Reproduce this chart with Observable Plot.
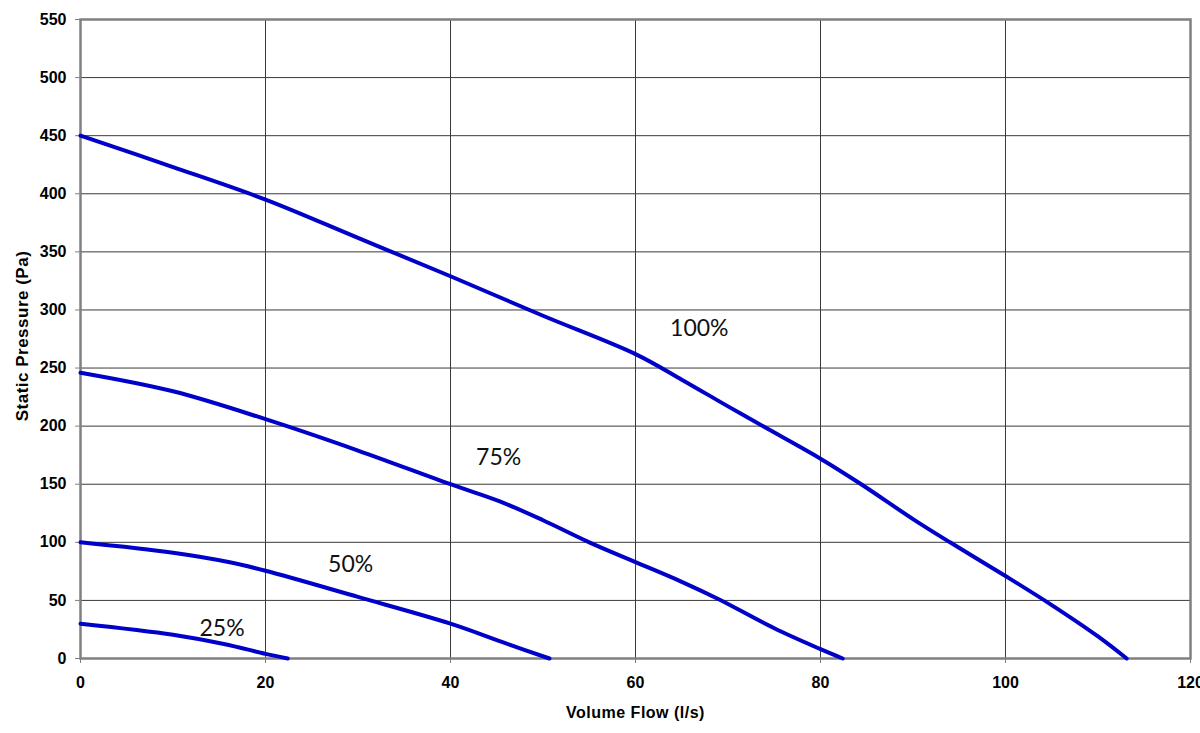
<!DOCTYPE html>
<html>
<head>
<meta charset="utf-8">
<script src="https://cdn.jsdelivr.net/npm/d3@7"></script>
<script src="https://cdn.jsdelivr.net/npm/@observablehq/plot@0.6"></script>
<style>
  html, body { margin: 0; padding: 0; background: #fff; }
  #chart svg { display: block; }
</style>
</head>
<body>
<div id="chart"></div>
<script>
// ---- data ----
const flow100 = [0, 10, 20, 30, 40, 50, 60, 65, 70, 74, 80, 84.4, 90, 94, 100, 105, 110, 113.1];
const pres100 = [450, 423, 395, 362, 329, 295, 262, 240, 217, 199, 172, 150, 120, 100, 71, 46, 19, 0];

const flow75 = [0, 10, 20, 30, 40, 45.4, 50, 55, 60, 65, 69, 75, 80, 82.4];
const pres75 = [246, 230, 206, 179, 150, 135, 119, 100, 83, 66, 51, 26, 8, 0];

const flow50 = [0, 10, 16, 20, 30, 40, 46, 50.7];
const pres50 = [100, 91, 83, 75.5, 53, 30, 13, 0];

const flow25 = [0, 10, 15.5, 20, 22.4];
const pres25 = [30, 20.5, 12.5, 4, 0];

const seriesNames = ["100%", "75%", "50%", "25%"];
const labelX = [66.9, 45.2, 29.2, 15.3];
const labelY = [283.7, 173, 81, 25.4];

const xTicks = [0, 20, 40, 60, 80, 100, 120];
const yTicks = [0, 50, 100, 150, 200, 250, 300, 350, 400, 450, 500, 550];

const xTitle = "Volume Flow (l/s)";
const yTitle = "Static Pressure (Pa)";

// ---- build table ----
const curves = [[flow100, pres100], [flow75, pres75], [flow50, pres50], [flow25, pres25]];
const rows = curves.flatMap(([fx, py], i) => fx.map((f, j) => ({series: seriesNames[i], flow: f, pressure: py[j]})));
const labels = seriesNames.map((s, i) => ({text: s, x: labelX[i], y: labelY[i]}));

const font = "'Liberation Sans', Arial, Helvetica, sans-serif";

const chart = Plot.plot({
  width: 1200,
  height: 733,
  marginLeft: 80,
  marginRight: 10,
  marginTop: 19,
  marginBottom: 75,
  style: {fontFamily: font, fontSize: "16px", fontWeight: "bold", color: "black", background: "white"},
  x: {domain: [0, 120]},
  y: {domain: [0, 550]},
  marks: [
    Plot.gridX(xTicks, {stroke: "#3a3a3a", strokeOpacity: 1, strokeWidth: 1}),
    Plot.gridY(yTicks, {stroke: "#3a3a3a", strokeOpacity: 1, strokeWidth: 1}),
    Plot.axisX(xTicks, {tickSize: 5, tickPadding: 13, stroke: "#808080", fill: "black", label: null, fontSize: 16, fontWeight: "bold"}),
    Plot.axisY(yTicks, {tickSize: 5, tickPadding: 9, stroke: "#808080", fill: "black", label: null, fontSize: 16, fontWeight: "bold"}),
    Plot.frame({stroke: "#808080", strokeWidth: 2.5}),
    Plot.line(rows, {x: "flow", y: "pressure", z: "series", stroke: "#0000c8", strokeWidth: 4, curve: "catmull-rom"}),
    Plot.text(labels, {x: "x", y: "y", text: "text", fontSize: 23, fontWeight: "normal", fontFamily: "Lato, 'Open Sans', sans-serif", fill: "#111"}),
    Plot.text([xTitle], {frameAnchor: "bottom", lineAnchor: "middle", textAnchor: "middle", dy: 54, fontSize: 16, fontWeight: "bold", fill: "black"}),
    Plot.text([yTitle], {frameAnchor: "left", lineAnchor: "middle", textAnchor: "middle", dx: -58, dy: -3, rotate: -90, fontSize: 17, fontWeight: "bold", fill: "black"})
  ]
});
chart.querySelectorAll("text").forEach(t => {
  if (t.textContent === xTitle) t.setAttribute("letter-spacing", "0.5");
  if (t.textContent === yTitle) t.setAttribute("letter-spacing", "0.5");
});
document.getElementById("chart").appendChild(chart);
</script>
</body>
</html>
